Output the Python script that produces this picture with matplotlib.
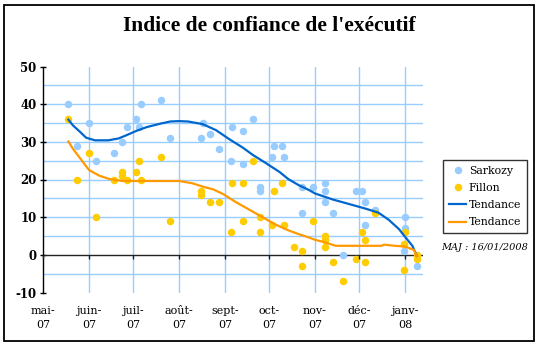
import numpy as np
import matplotlib
matplotlib.use('Agg')
import matplotlib.pyplot as plt
import matplotlib.dates as mdates
from matplotlib.lines import Line2D
from matplotlib.patches import Rectangle

# ---------------- data ----------------
sarkozy_dates = ['2007-05-18', '2007-05-24', '2007-06-01', '2007-06-06', '2007-06-18',
                 '2007-06-23', '2007-06-27', '2007-07-03', '2007-07-05', '2007-07-06',
                 '2007-07-20', '2007-07-26', '2007-08-16', '2007-08-17', '2007-08-22',
                 '2007-08-28', '2007-09-05', '2007-09-06', '2007-09-13', '2007-09-13',
                 '2007-09-20', '2007-09-25', '2007-09-25', '2007-10-03', '2007-10-04',
                 '2007-10-10', '2007-10-11', '2007-10-23', '2007-10-23', '2007-10-31',
                 '2007-11-08', '2007-11-08', '2007-11-08', '2007-11-13', '2007-11-20',
                 '2007-11-29', '2007-12-03', '2007-12-05', '2007-12-05', '2007-12-12',
                 '2008-01-01', '2008-01-01', '2007-12-31', '2008-01-09']
sarkozy_values = [40, 29, 35, 25, 27,
                  30, 34, 36, 34, 40,
                  41, 31, 31, 35, 32,
                  28, 25, 34, 33, 24,
                  36, 18, 17, 26, 29,
                  29, 26, 18, 11, 18,
                  19, 17, 14, 11, 0,
                  17, 17, 14, 8, 12,
                  10, 7, 1, -3]

fillon_dates = ['2007-05-18', '2007-05-24', '2007-06-01', '2007-06-06', '2007-06-18',
                '2007-06-23', '2007-06-23', '2007-06-27', '2007-07-03', '2007-07-05',
                '2007-07-06', '2007-07-20', '2007-07-26', '2007-08-16', '2007-08-16',
                '2007-08-22', '2007-08-28', '2007-09-05', '2007-09-06', '2007-09-13',
                '2007-09-13', '2007-09-20', '2007-09-25', '2007-09-25', '2007-10-03',
                '2007-10-04', '2007-10-10', '2007-10-11', '2007-10-18', '2007-10-23',
                '2007-10-23', '2007-10-31', '2007-11-08', '2007-11-08', '2007-11-08',
                '2007-11-13', '2007-11-20', '2007-11-29', '2007-12-03', '2007-12-05',
                '2007-12-05', '2007-12-12', '2008-01-01', '2007-12-31', '2007-12-31',
                '2008-01-09', '2008-01-09']
fillon_values = [36, 20, 27, 10, 20,
                 22, 21, 20, 22, 25,
                 20, 26, 9, 17, 16,
                 14, 14, 6, 19, 19,
                 9, 25, 10, 6, 8,
                 17, 19, 8, 2, 1,
                 -3, 9, 5, 4, 2,
                 -2, -7, -1, 6, 4,
                 -2, 11, 6, 3, -4,
                 0, -1]

trend_sarkozy_dates = ['2007-05-18', '2007-05-21', '2007-05-26', '2007-05-30', '2007-06-05',
                       '2007-06-14', '2007-06-21', '2007-06-26', '2007-07-03', '2007-07-10',
                       '2007-07-19', '2007-07-26', '2007-08-01', '2007-08-07', '2007-08-17',
                       '2007-08-26', '2007-09-04', '2007-09-13', '2007-09-20', '2007-09-29',
                       '2007-10-08', '2007-10-14', '2007-10-21', '2007-10-28', '2007-11-01',
                       '2007-11-13', '2007-11-24', '2007-12-05', '2007-12-14', '2007-12-21',
                       '2007-12-28', '2008-01-01', '2008-01-06', '2008-01-09']
trend_sarkozy_values = [35.9, 34.4, 32.6, 31.1, 30.4,
                        30.4, 30.9, 31.7, 32.9, 33.9,
                        34.8, 35.4, 35.5, 35.4, 34.7,
                        33.1, 30.7, 28.5, 26.5, 24.3,
                        22.0, 20.1, 18.5, 17.2, 16.3,
                        14.7, 13.5, 12.3, 11.2, 9.3,
                        6.8, 4.8, 2.4, -0.3]

trend_fillon_dates = ['2007-05-18', '2007-05-21', '2007-05-26', '2007-06-01', '2007-06-08',
                      '2007-06-15', '2007-06-24', '2007-08-01', '2007-08-10', '2007-08-17',
                      '2007-08-24', '2007-08-31', '2007-09-08', '2007-09-17', '2007-09-26',
                      '2007-10-05', '2007-10-14', '2007-10-21', '2007-10-28', '2007-11-01',
                      '2007-11-08', '2007-11-15', '2007-12-16', '2007-12-18', '2007-12-25',
                      '2008-01-01', '2008-01-07', '2008-01-09']
trend_fillon_values = [30.1, 28.2, 25.6, 22.5, 21.0,
                       20.1, 19.6, 19.6, 19.0, 18.1,
                       17.4, 16.1, 14.1, 12.1, 10.1,
                       8.1, 6.5, 5.5, 4.6, 4.0,
                       3.3, 2.4, 2.4, 2.7, 2.4,
                       2.2, 1.3, -0.3]

month_ticks = ['2007-05-01', '2007-06-01', '2007-07-01', '2007-08-01', '2007-09-01',
               '2007-10-01', '2007-11-01', '2007-12-01', '2008-01-01']
month_labels = ['mai-\n07', 'juin-\n07', 'juil-\n07', 'août-\n07', 'sept-\n07',
                'oct-\n07', 'nov-\n07', 'déc-\n07', 'janv-\n08']
y_major = [-10, 0, 10, 20, 30, 40, 50]
y_minor = [-5, 5, 15, 25, 35, 45]

title = "Indice de confiance de l'exécutif"
series_names = ['Sarkozy', 'Fillon', 'Tendance', 'Tendance']
update_note = 'MAJ : 16/01/2008'


def dn(lst):
    return mdates.date2num(np.array(lst, dtype='datetime64[D]'))


# ---------------- style ----------------
C_SARKO = '#99CCFF'
C_FILLON = '#FFCC00'
C_TS = '#0066CC'
C_TF = '#FF9900'
C_GRID = '#99CCFF'
SERIF = ['DejaVu Serif']

W, H = 540, 348
fig = plt.figure(figsize=(W / 100, H / 100), dpi=100)
fig.patch.set_facecolor('white')

ax = fig.add_axes([43.3 / W, 1 - 292.5 / H, (422.7 - 43.3) / W, (292.5 - 66.5) / H])

ax.set_xlim(dn(['2007-05-01'])[0], dn(['2008-01-13'])[0])
ax.set_ylim(-10, 50)

# grid
ax.set_yticks(y_major)
ax.set_yticks(y_minor, minor=True)
ax.set_xticks(dn(month_ticks))
ax.grid(True, which='both', axis='y', color=C_GRID, lw=1.0, zorder=0)
ax.grid(True, which='major', axis='x', color=C_GRID, lw=1.0, zorder=0)
gl = ax.get_ygridlines()
gl[0].set_visible(False)
gl[1].set_visible(False)
gl[-1].set_visible(False)
ax.get_xgridlines()[0].set_visible(False)
ax.set_axisbelow(True)

for s in ['top', 'right', 'bottom']:
    ax.spines[s].set_visible(False)
ax.spines['left'].set_linewidth(1.0)
ax.spines['left'].set_color('black')

ax.tick_params(axis='y', which='major', direction='inout', length=5, width=1.0,
               pad=2.5)
ax.tick_params(axis='y', which='minor', length=0)
ax.set_yticklabels([str(v) for v in y_major], fontfamily=SERIF, fontweight='bold',
                   fontsize=8.5)

ax.tick_params(axis='x', which='both', length=0, pad=10)
ax.set_xticklabels(month_labels, fontfamily=SERIF, fontsize=8, linespacing=1.4)

# zero axis line with ticks
ax.axhline(0, color='#222222', lw=1.0, zorder=2)
sec = ax.secondary_xaxis(1 / 6)
sec.set_xticks(dn(month_ticks))
sec.tick_params(axis='x', direction='out', length=3, width=1.0, color='#222222',
                labelbottom=False)
sec.spines['bottom'].set_visible(False)
sec.set_zorder(5)

# data
ax.plot(dn(sarkozy_dates), sarkozy_values, 'o', color=C_SARKO, ms=5.4, mec='none', zorder=3)
ax.plot(dn(fillon_dates), fillon_values, 'o', color=C_FILLON, ms=5.4, mec='none', zorder=3)
ax.plot(dn(trend_sarkozy_dates), trend_sarkozy_values, '-', color=C_TS, lw=1.6, zorder=4)
ax.plot(dn(trend_fillon_dates), trend_fillon_values, '-', color=C_TF, lw=1.6, zorder=4)

# title
fig.text(269.5 / W, 1 - 26 / H, title, ha='center', va='center',
         fontfamily=['Liberation Serif'], fontweight='bold', fontsize=15.5)

# legend
handles = [
    Line2D([], [], ls='none', marker='o', color=C_SARKO, ms=5.4, mec='none'),
    Line2D([], [], ls='none', marker='o', color=C_FILLON, ms=5.4, mec='none'),
    Line2D([], [], color=C_TS, lw=1.6),
    Line2D([], [], color=C_TF, lw=1.6),
]
leg = fig.legend(handles, series_names, loc='upper left',
                 bbox_to_anchor=(443.3 / W, 1 - 160 / H),
                 prop={'family': SERIF, 'size': 7.8}, frameon=True, fancybox=False,
                 edgecolor='black', handlelength=1.55, handletextpad=0.25,
                 borderpad=0.55, labelspacing=0.66, borderaxespad=0)
leg.get_frame().set_linewidth(1.0)

fig.text(484.5 / W, 1 - 248 / H, update_note, ha='center', va='center',
         fontfamily=SERIF, fontstyle='italic', fontsize=7)

# outer border
fig.patches.append(Rectangle((4.3 / W, 1 - 341 / H), (534.3 - 4.3) / W, (341 - 5) / H,
                             transform=fig.transFigure, fill=False, lw=1.3,
                             ec='black'))

fig.savefig('out.png', dpi=100)
